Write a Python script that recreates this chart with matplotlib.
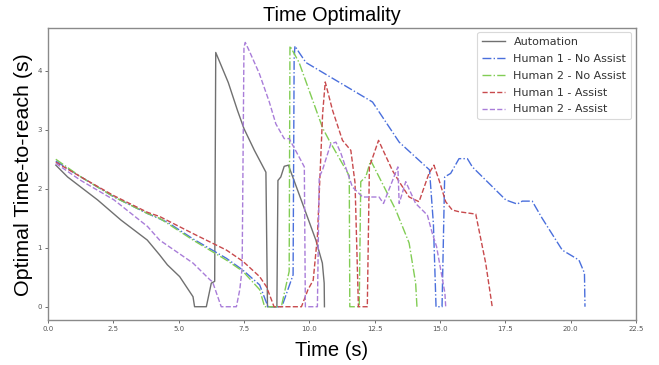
import matplotlib
matplotlib.use("Agg")
import matplotlib.pyplot as plt

# ---- data ----
auto_t = [0.3, 0.75, 1.9, 2.79, 3.8, 4.27, 4.57, 5.04, 5.55, 5.61, 6.06, 6.25, 6.38, 6.42,
          6.9, 7.25, 7.5, 7.9, 8.34, 8.4, 8.76, 8.8, 8.91, 9.04, 9.2, 9.74, 10.25, 10.5, 10.57, 10.58]
auto_v = [2.4, 2.2, 1.81, 1.47, 1.13, 0.88, 0.71, 0.51, 0.17, 0.0, 0.0, 0.4, 0.43, 4.31,
          3.8, 3.33, 3.02, 2.65, 2.28, 0.0, 0.0, 2.14, 2.2, 2.38, 2.4, 1.75, 1.13, 0.74, 0.4, 0.0]

h1na_t = [0.3, 1.26, 2.53, 3.81, 4.58, 5.55, 6.83, 7.46, 8.1, 8.42, 8.95, 9.38, 9.42, 9.45,
          9.61, 9.87, 12.42, 13.44, 14.6, 14.75, 14.85, 15.08, 15.18, 15.41, 15.73, 16.05,
          16.24, 17.2, 17.52, 17.96, 18.15, 18.53, 18.91, 19.68, 20.06, 20.32, 20.53, 20.55]
h1na_v = [2.47, 2.2, 1.86, 1.58, 1.43, 1.15, 0.82, 0.62, 0.37, 0.0, 0.0, 0.54, 4.2, 4.42,
          4.31, 4.14, 3.47, 2.79, 2.32, 1.4, 0.0, 0.0, 2.2, 2.26, 2.51, 2.51,
          2.37, 1.95, 1.81, 1.74, 1.79, 1.79, 1.5, 0.96, 0.86, 0.79, 0.57, 0.0]

h2na_t = [0.3, 1.26, 2.53, 3.81, 4.27, 5.55, 6.83, 7.46, 8.1, 8.29, 8.93, 9.23, 9.26,
          9.61, 10.51, 10.76, 11.53, 11.55, 11.91, 11.97, 12.16, 12.35, 13.31, 13.82, 14.07, 14.12]
h2na_v = [2.5, 2.2, 1.86, 1.58, 1.5, 1.13, 0.79, 0.6, 0.29, 0.0, 0.0, 0.6, 4.42,
          4.14, 3.03, 2.82, 2.22, 0.0, 0.0, 2.12, 2.2, 2.48, 1.64, 1.08, 0.4, 0.0]

h1a_t = [0.3, 1.26, 2.53, 3.81, 4.27, 5.55, 6.83, 7.46, 8.1, 8.36, 8.55, 8.65, 9.7, 9.95,
         10.15, 10.31, 10.51, 10.61, 10.89, 11.27, 11.59, 11.75, 11.88, 12.22, 12.3, 12.65,
         13.18, 13.44, 13.82, 14.2, 14.58, 14.77, 14.97, 15.22, 15.47, 15.73, 16.37, 16.75, 17.0]
h1a_v = [2.45, 2.2, 1.88, 1.6, 1.53, 1.24, 0.96, 0.77, 0.51, 0.34, 0.12, 0.0, 0.0, 0.29,
         0.45, 1.19, 3.27, 3.81, 3.33, 2.82, 2.65, 2.1, 0.0, 0.0, 2.37, 2.82,
         2.31, 2.12, 1.86, 1.78, 2.26, 2.4, 2.14, 1.78, 1.64, 1.61, 1.57, 0.74, 0.0]

h2a_t = [0.3, 1.26, 2.53, 3.81, 4.27, 5.55, 6.19, 6.3, 6.63, 7.21, 7.34, 7.43, 7.5, 7.55,
         7.7, 8.09, 8.47, 8.72, 9.04, 9.23, 9.68, 9.81, 9.85, 10.31, 10.38, 10.5, 10.82,
         11.02, 11.21, 11.65, 12.04, 12.67, 12.84, 13.39, 13.44, 13.69, 14.07, 14.39, 14.52,
         14.71, 14.87, 15.19, 15.22]
h2a_v = [2.43, 2.14, 1.81, 1.36, 1.13, 0.74, 0.46, 0.42, 0.0, 0.0, 0.29, 0.65, 4.4, 4.48,
         4.34, 3.95, 3.47, 3.1, 2.85, 2.85, 2.48, 2.37, 0.0, 0.0, 2.2, 2.31, 2.76,
         2.79, 2.6, 2.03, 1.86, 1.86, 1.75, 2.37, 1.75, 2.12, 1.75, 1.61, 1.55,
         1.24, 1.02, 0.23, 0.0]

labels = ["Automation", "Human 1 - No Assist", "Human 2 - No Assist",
          "Human 1 - Assist", "Human 2 - Assist"]
x_ticks = [0.0, 2.5, 5.0, 7.5, 10.0, 12.5, 15.0, 17.5, 20.0, 22.5]
y_ticks = [0, 1, 2, 3, 4]

# ---- plot ----
fig = plt.figure(figsize=(6.59, 3.65), dpi=100)
ax = fig.add_axes([0.0728, 0.1233, 0.8922, 0.80])

ax.plot(auto_t, auto_v, color="#707070", lw=1.0, ls="-", label=labels[0])
ax.plot(h1na_t, h1na_v, color="#4a6fdc", lw=1.0, ls="-.", label=labels[1])
ax.plot(h2na_t, h2na_v, color="#82cd55", lw=1.0, ls="-.", label=labels[2])
ax.plot(h1a_t, h1a_v, color="#c84a4d", lw=1.0, ls="--", label=labels[3])
ax.plot(h2a_t, h2a_v, color="#a97dd9", lw=1.0, ls="--", label=labels[4])

ax.set_xlim(0, 22.5)
ax.set_ylim(-0.225, 4.725)
ax.set_xticks(x_ticks)
ax.set_xticklabels([f"{v:.1f}" for v in x_ticks])
ax.set_yticks(y_ticks)
ax.set_yticklabels([str(v) for v in y_ticks])
ax.tick_params(labelsize=5, colors="#555555", length=2.5, width=0.6, pad=2)
for s in ax.spines.values():
    s.set_color("#8a8a8a")
    s.set_linewidth(1.0)

leg = ax.legend(loc="upper right", fontsize=8.0, frameon=True, fancybox=True,
                borderpad=0.45, labelspacing=0.62, handlelength=2.0, handletextpad=0.8,
                borderaxespad=0.3, bbox_to_anchor=(0.998, 0.998))
leg.get_frame().set_edgecolor("#d0d0d0")
leg.get_frame().set_linewidth(0.8)
for t in leg.get_texts():
    t.set_color("#333333")

fig.text(0.503, 0.958, "Time Optimality", ha="center", va="center",
         fontsize=14.3, family=["Liberation Sans", "DejaVu Sans"])
fig.text(0.503, 0.04, "Time (s)", ha="center", va="center",
         fontsize=14.5, family=["Liberation Sans", "DejaVu Sans"])
fig.text(0.035, 0.521, "Optimal Time-to-reach (s)", ha="center", va="center",
         rotation=90, fontsize=15.4, family=["Liberation Sans", "DejaVu Sans"])

fig.savefig("out.png", dpi=100)
